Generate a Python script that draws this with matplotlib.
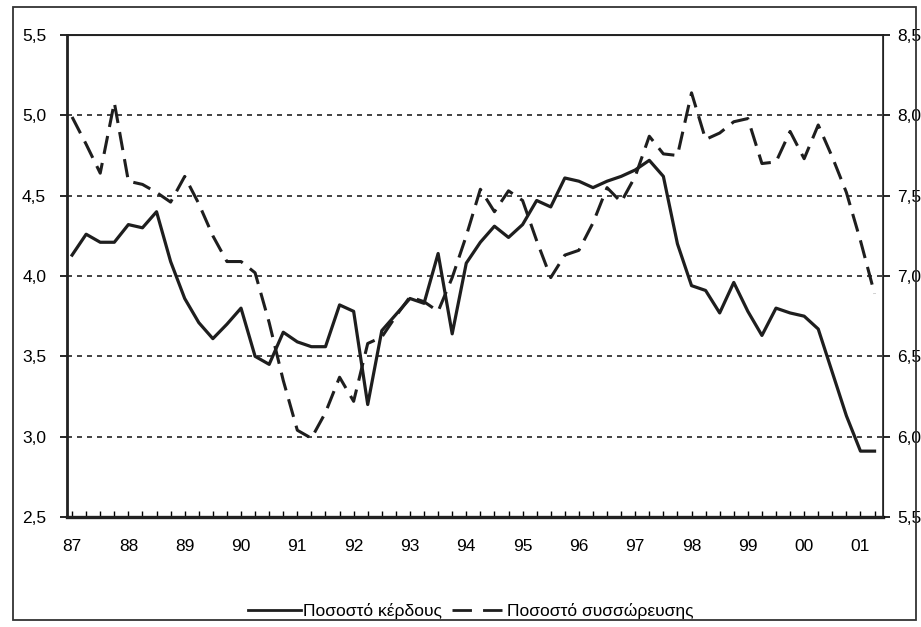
import numpy as np
import matplotlib
matplotlib.use("Agg")
import matplotlib.pyplot as plt
from matplotlib.patches import Rectangle
from matplotlib.lines import Line2D

plt.rcParams['font.family'] = ['Liberation Sans Narrow', 'Liberation Sans', 'DejaVu Sans']

# quarterly data, 1987 Q1 .. 2001 Q2
start_year = 87
profit_rate = [4.13, 4.26, 4.21, 4.21, 4.32, 4.30, 4.40, 4.09,
               3.86, 3.71, 3.61, 3.70, 3.80, 3.50, 3.45, 3.65,
               3.59, 3.56, 3.56, 3.82, 3.78, 3.20, 3.66, 3.76,
               3.86, 3.83, 4.14, 3.64, 4.08, 4.21, 4.31, 4.24,
               4.32, 4.47, 4.43, 4.61, 4.59, 4.55, 4.59, 4.62,
               4.66, 4.72, 4.62, 4.20, 3.94, 3.91, 3.77, 3.96,
               3.78, 3.63, 3.80, 3.77, 3.75, 3.67, 3.40, 3.13,
               2.91, 2.91]
accum_rate = [7.99, 7.82, 7.64, 8.08, 7.59, 7.57, 7.52, 7.46,
              7.62, 7.45, 7.25, 7.09, 7.09, 7.02, 6.71, 6.35,
              6.04, 5.99, 6.15, 6.37, 6.22, 6.58, 6.62, 6.75,
              6.87, 6.84, 6.78, 6.99, 7.25, 7.54, 7.40, 7.53,
              7.47, 7.22, 6.99, 7.13, 7.16, 7.33, 7.55, 7.46,
              7.62, 7.87, 7.76, 7.75, 8.14, 7.85, 7.89, 7.96,
              7.98, 7.70, 7.71, 7.90, 7.73, 7.94, 7.74, 7.52,
              7.22, 6.89]

year_labels = ['87', '88', '89', '90', '91', '92', '93', '94',
               '95', '96', '97', '98', '99', '00', '01']
left_ticks = [2.5, 3.0, 3.5, 4.0, 4.5, 5.0, 5.5]
left_labels = ['2,5', '3,0', '3,5', '4,0', '4,5', '5,0', '5,5']
right_ticks = [5.5, 6.0, 6.5, 7.0, 7.5, 8.0, 8.5]
right_labels = ['5,5', '6,0', '6,5', '7,0', '7,5', '8,0', '8,5']
label_profit = 'Ποσοστό κέρδους'
label_accum = 'Ποσοστό συσσώρευσης'

x = start_year + np.arange(len(profit_rate)) / 4.0
ink = '#1e1e1e'

fig = plt.figure(figsize=(9.21, 6.27), dpi=100)
ax = fig.add_axes([67/921, 1-517/627, (883-67)/921, (517-35)/627])
ax2 = ax.twinx()

# outer frame round the whole figure
fig.patches.append(Rectangle((13/921, 7/627), (916-13)/921, (620-7)/627,
                             transform=fig.transFigure, fill=False,
                             edgecolor='#333333', linewidth=1.3))

# dotted grid
for v in left_ticks[1:-1]:
    ax.axhline(v, color='#222222', linestyle=(0, (3, 3)), linewidth=1.2, zorder=1)

ax.plot(x, profit_rate, color=ink, linewidth=2.3, zorder=3,
        solid_joinstyle='round')
ax2.plot(x, accum_rate, color=ink, linewidth=2.2, zorder=3,
         linestyle=(0, (6, 3)))

ax.set_xlim(86.91, 101.40)
ax.set_ylim(2.5, 5.5)
ax2.set_ylim(5.5, 8.5)

years = start_year + np.arange(len(year_labels))
ax.set_xticks(years)
ax.set_xticklabels(year_labels)
ax.set_xticks(x, minor=True)
ax.tick_params(axis='x', which='both', direction='in', length=4, width=1,
               pad=16, labelsize=12.5)

ax.set_yticks(left_ticks)
ax.set_yticklabels(left_labels)
ax.tick_params(axis='y', direction='out', length=5, width=1.2, pad=10,
               labelsize=12.5)
ax2.set_yticks(right_ticks)
ax2.set_yticklabels(right_labels)
ax2.tick_params(axis='y', direction='out', length=5, width=1.2, pad=5,
                labelsize=12.5)

ax.spines['left'].set_linewidth(2.0)
ax.spines['bottom'].set_linewidth(2.4)
ax.spines['top'].set_linewidth(1.4)
ax2.spines['right'].set_linewidth(1.2)
for a in (ax, ax2):
    for s in a.spines.values():
        s.set_color('#222222')

h1 = Line2D([], [], color=ink, linewidth=2.0)
h2 = Line2D([], [], color=ink, linewidth=2.0, linestyle=(0, (7, 4)))
fig.legend([h1, h2], [label_profit, label_accum], loc='center',
           bbox_to_anchor=(471/921, 1-611/627), ncol=2, frameon=False,
           fontsize=12.5, handlelength=3.0, handletextpad=0.15,
           columnspacing=0.6)

fig.savefig('out.png', dpi=100)
